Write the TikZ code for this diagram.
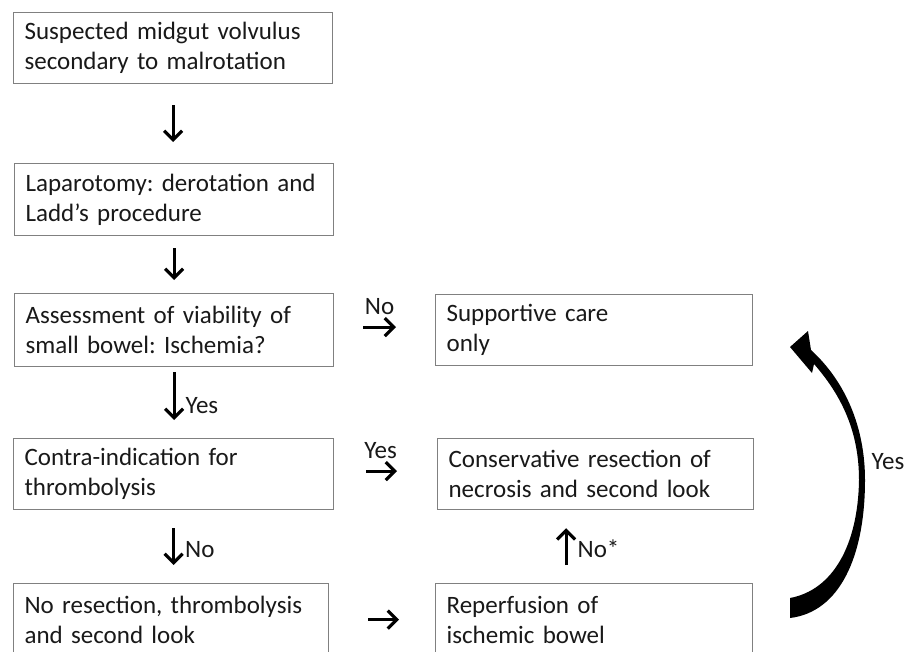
\documentclass[tikz,border=0pt]{standalone}
\usepackage{fontspec}
\setmainfont{Carlito}[WordSpace=0.85]
\frenchspacing
\usetikzlibrary{arrows.meta,positioning,calc}

\begin{document}
\begin{tikzpicture}[x=1pt,y=-1pt,{box/.style={rectangle,draw=black!50,line width=1.2pt,anchor=north west,align=left,inner xsep=11pt,inner ysep=0pt,text=black!90,font=\fontsize{25}{30}\selectfont}},{arr/.style={line width=3pt,-{Straight Barb[length=9pt,width=18pt,line width=3.2pt]}}},{lab/.style={font=\fontsize{25}{30}\selectfont,text=black!90,inner sep=2pt}}]
	%%frame of the figure
	\clip (0,0) rectangle (905,651);
	\fill [white] (0,0) rectangle (905,651);
	%%left column
	\node [box,text width=297pt,minimum height=71pt] (susp) at (13,12) {Suspected midgut volvulus\\secondary to malrotation};
	\node [box,text width=297pt,minimum height=72pt] (lapa) at (14,163) {Laparotomy: derotation and\\Ladd’s procedure};
	\node [box,text width=297pt,minimum height=73pt] (assess) at (14,293) {Assessment of viability of\\small bowel: Ischemia?};
	\node [box,text width=298pt,minimum height=71pt] (contra) at (13,438) {Contra-indication for\\thrombolysis};
	\node [box,text width=293pt,minimum height=72pt] (noresec) at (13,583) {No resection, thrombolysis\\and second look};
	%%right column
	\node [box,text width=295pt,minimum height=71pt] (support) at (435,294) {Supportive care\\only};
	\node [box,text width=294pt,minimum height=71pt] (conserv) at (437,438) {Conservative resection of\\necrosis and second look};
	\node [box,text width=295pt,minimum height=72pt] (reperf) at (435,583) {Reperfusion of\\ischemic bowel};
	%%arrows down
	\draw [arr,shorten <=21pt,shorten >=21pt] (susp.south) -- (susp.south |- lapa.north);
	\draw [arr,shorten <=12pt,shorten >=13pt] (lapa.south) -- (lapa.south |- assess.north);
	\draw [arr,shorten <=5pt,shorten >=18pt] (assess.south) -- (assess.south |- contra.north) node [lab,midway,right=8pt,yshift=-3pt] (yes1) {Yes};
	\draw [arr,shorten <=18pt,shorten >=18pt] (contra.south) -- (contra.south |- noresec.north) node [lab,midway,right=8pt,yshift=-3pt] (no1) {No};
	%%arrows across
	\draw [arr,shorten <=29pt,shorten >=39pt] ([yshift=3pt]assess.east) -- ([yshift=3pt]assess.east -| support.west) node [lab,midway,above=9pt,xshift=-5pt] (no2) {No};
	\draw [arr,shorten <=32pt,shorten >=40pt] ([yshift=3pt]contra.east) -- ([yshift=3pt]contra.east -| conserv.west) node [lab,midway,above=9pt,xshift=-5pt] (yes2) {Yes};
	\draw [arr,shorten <=39pt,shorten >=36pt] (noresec.east) -- (noresec.east -| reperf.west);
	%%arrow up
	\draw [arr,shorten <=18pt,shorten >=18pt] ([xshift=-28pt]reperf.north) -- ([xshift=-28pt]reperf.north |- conserv.south) node [lab,midway,right=8pt,yshift=-2pt] (no3) {No*};
	%%big curved arrow back to supportive care
	\fill [black] (790,598) .. controls (833,590) and (858,545) .. (859,480) .. controls (859,432) and (842,396) .. (814,364)
		-- (812,373) -- (790,347) -- (808,331) -- (811,350)
		.. controls (846,382) and (865,428) .. (865,480) .. controls (865,556) and (840,612) .. (790,618) -- cycle;
	\node [lab] (yes3) at (888,462) {Yes};
\end{tikzpicture}
\end{document}
